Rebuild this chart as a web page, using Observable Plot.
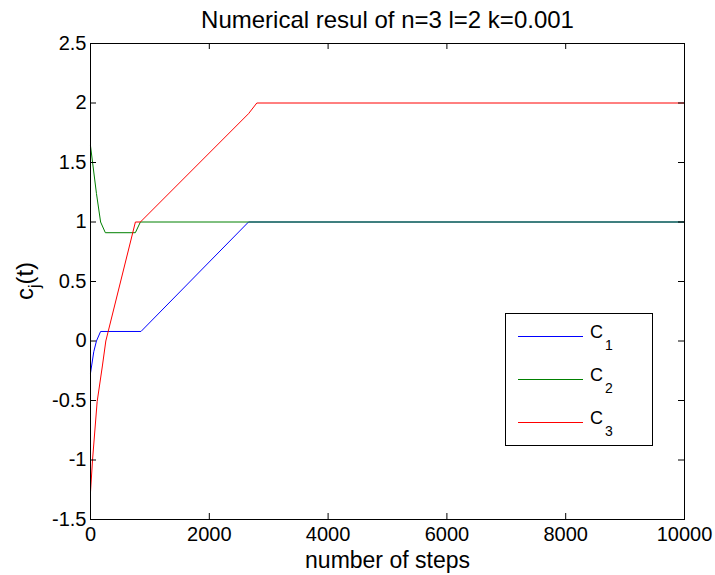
<!DOCTYPE html>
<html>
<head>
<meta charset="utf-8">
<script src="https://cdn.jsdelivr.net/npm/d3@7"></script>
<script src="https://cdn.jsdelivr.net/npm/@observablehq/plot@0.6"></script>
<style>
  html, body { margin: 0; padding: 0; background: #fff; }
  #chart svg { display: block; }
</style>
</head>
<body>
<div id="chart"></div>
<script>
// ---------- data ----------
const titleText = "Numerical resul of n=3 l=2 k=0.001";
const xLabelText = "number of steps";
const yLabelBase = "c";
const yLabelSub = "j";
const yLabelRest = "(t)";

const seriesBase = ["C", "C", "C"];
const seriesSub = ["1", "2", "3"];
const seriesKeys = ["C1", "C2", "C3"];
const seriesColors = ["#0000ff", "#008000", "#ff0000"];

const c1Steps  = [0, 55, 100, 170, 850, 2660, 10000];
const c1Values = [-0.27, -0.09, 0.0, 0.08, 0.08, 1.0, 1.0];

const c2Steps  = [0, 100, 170, 250, 755, 840, 10000];
const c2Values = [1.64, 1.24, 1.0, 0.91, 0.91, 1.0, 1.0];

const c3Steps  = [0, 34, 112, 200, 258, 756, 840, 2660, 2800, 10000];
const c3Values = [-1.27, -1.0, -0.51, -0.21, 0.0, 1.0, 1.0, 1.91, 2.0, 2.0];

const xTicks = [0, 2000, 4000, 6000, 8000, 10000];
const yTicks = [-1.5, -1, -0.5, 0, 0.5, 1, 1.5, 2, 2.5];

// ---------- build table ----------
const allSteps = [c1Steps, c2Steps, c3Steps];
const allValues = [c1Values, c2Values, c3Values];
const rows = [];
seriesKeys.forEach((key, i) => {
  allSteps[i].forEach((s, j) => rows.push({series: key, step: s, value: allValues[i][j]}));
});

// ---------- layout ----------
const W = 715, H = 575;
const mL = 90, mR = 31, mT = 43, mB = 56;
const frameW = W - mL - mR;
const frameH = H - mT - mB;
const tickLen = 6;
const font = "'Liberation Sans', Arial, Helvetica, sans-serif";

const plot = Plot.plot({
  width: W,
  height: H,
  marginLeft: mL,
  marginRight: mR,
  marginTop: mT,
  marginBottom: mB,
  style: {fontFamily: font, background: "#fff", color: "#000", overflow: "visible"},
  x: {domain: [0, 10000]},
  y: {domain: [-1.5, 2.5]},
  color: {domain: seriesKeys, range: seriesColors},
  marks: [
    Plot.line(rows, {x: "step", y: "value", z: "series", stroke: "series", strokeWidth: 1}),
    Plot.frame({stroke: "#000", strokeWidth: 1}),
    // inward ticks, all four sides
    Plot.ruleX(xTicks, {x: d => d, insetTop: frameH - tickLen, stroke: "#000"}),
    Plot.ruleX(xTicks, {x: d => d, insetBottom: frameH - tickLen, stroke: "#000"}),
    Plot.ruleY(yTicks, {y: d => d, insetRight: frameW - tickLen, stroke: "#000"}),
    Plot.ruleY(yTicks, {y: d => d, insetLeft: frameW - tickLen, stroke: "#000"}),
    Plot.axisX({ticks: xTicks, tickSize: 0, tickPadding: 7, fontSize: 20, tickFormat: d => String(d), label: null}),
    Plot.axisY({ticks: yTicks, tickSize: 0, tickPadding: 4, fontSize: 20, tickFormat: d => String(d), label: null}),
    Plot.text([titleText], {text: d => d, frameAnchor: "top", lineAnchor: "bottom", dy: -16, fontSize: 24, fill: "#000"}),
    Plot.text([xLabelText], {text: d => d, frameAnchor: "bottom", lineAnchor: "bottom", dy: 48, fontSize: 23, fill: "#000"})
  ]
});

document.getElementById("chart").appendChild(plot);

// ---------- y label with subscript ----------
const svg = d3.select(plot);
const yl = svg.append("text")
  .attr("transform", `translate(33, ${mT + frameH / 2}) rotate(-90)`)
  .attr("text-anchor", "middle")
  .attr("font-family", font)
  .attr("font-size", 24)
  .attr("fill", "#000");
yl.append("tspan").text(yLabelBase);
yl.append("tspan").attr("font-size", 16).attr("dy", 7).text(yLabelSub);
yl.append("tspan").attr("dy", -7).text(yLabelRest);

// ---------- legend box ----------
const lg = svg.append("g").attr("font-family", font).attr("text-anchor", "start");
lg.append("rect")
  .attr("x", 505.5).attr("y", 313.5)
  .attr("width", 147).attr("height", 132)
  .attr("fill", "#fff").attr("stroke", "#000").attr("stroke-width", 1);
const rowY = [336.5, 379.5, 422.5];
seriesKeys.forEach((k, i) => {
  lg.append("line")
    .attr("x1", 518).attr("x2", 583)
    .attr("y1", rowY[i]).attr("y2", rowY[i])
    .attr("stroke", seriesColors[i]).attr("stroke-width", 1);
  const t = lg.append("text")
    .attr("x", 590).attr("y", rowY[i] + 1.5)
    .attr("text-anchor", "start")
    .attr("font-size", 18).attr("fill", "#000");
  t.append("tspan").text(seriesBase[i]);
  t.append("tspan").attr("font-size", 14).attr("dx", 2).attr("dy", 11.5).text(seriesSub[i]);
});
</script>
</body>
</html>
